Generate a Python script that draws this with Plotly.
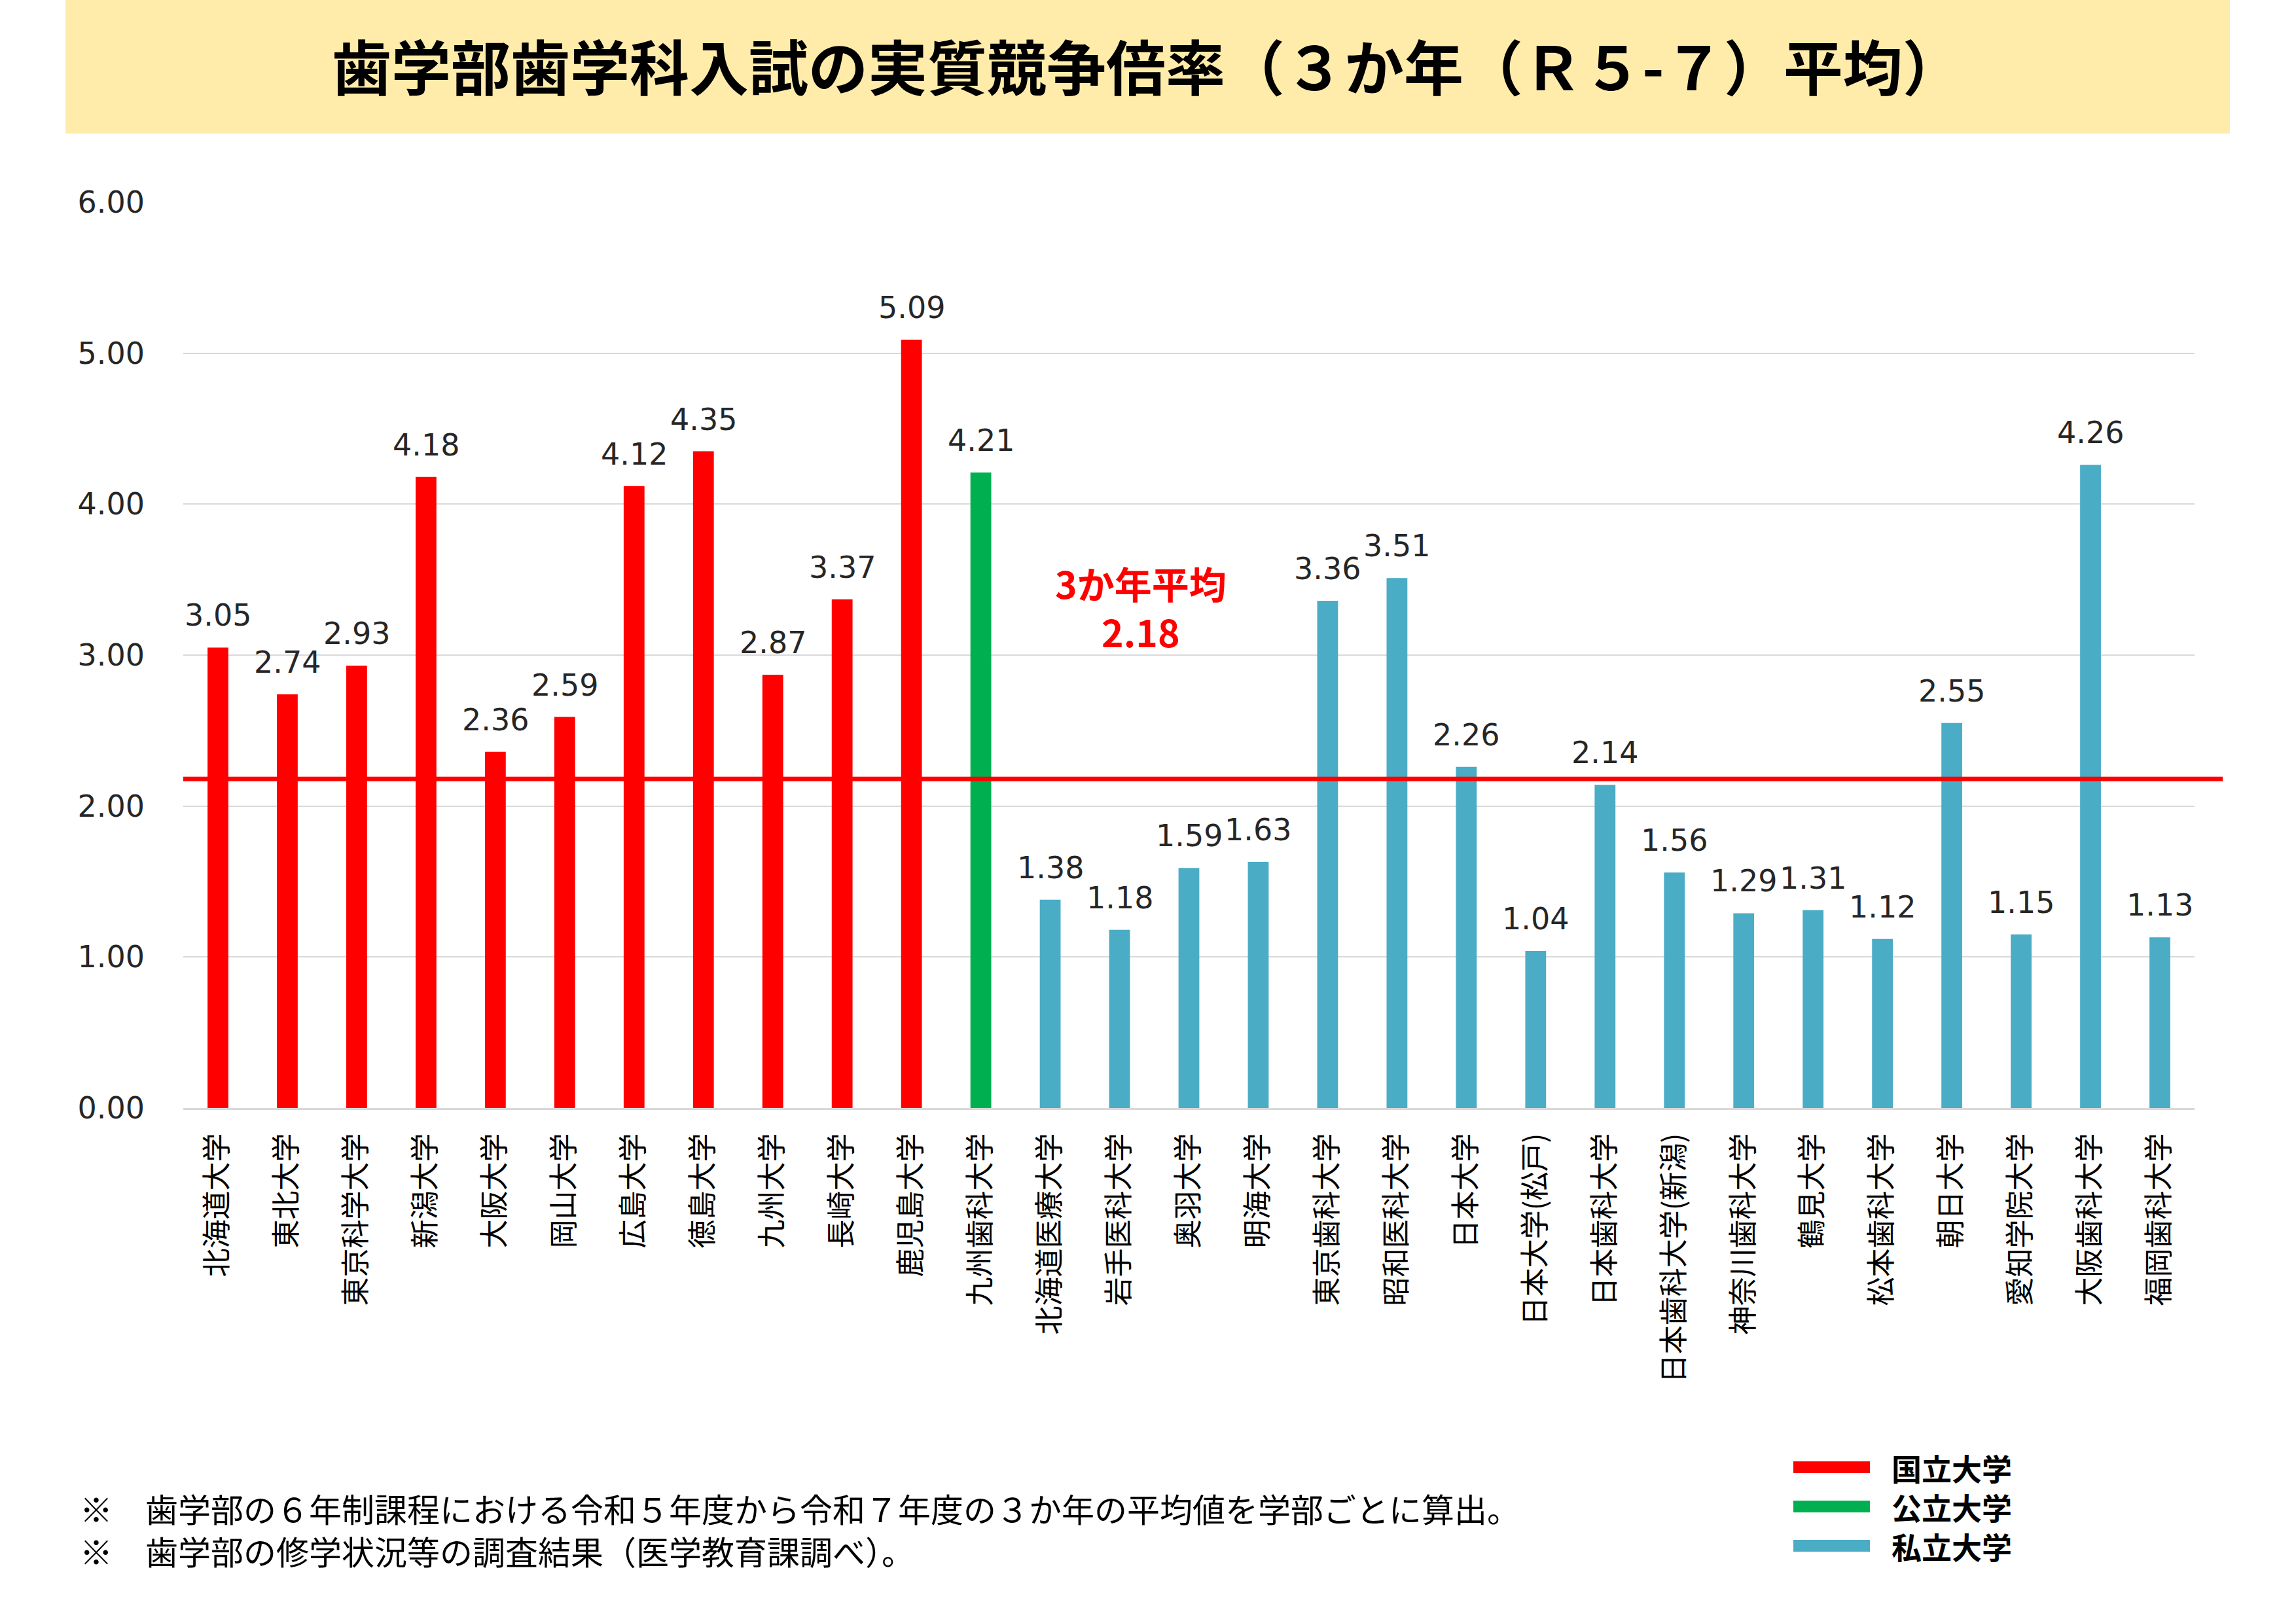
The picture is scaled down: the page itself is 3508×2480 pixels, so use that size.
import plotly.graph_objects as go

# ---------------- data ----------------
universities = [
    "北海道大学", "東北大学", "東京科学大学", "新潟大学", "大阪大学", "岡山大学",
    "広島大学", "徳島大学", "九州大学", "長崎大学", "鹿児島大学", "九州歯科大学",
    "北海道医療大学", "岩手医科大学", "奥羽大学", "明海大学", "東京歯科大学",
    "昭和医科大学", "日本大学", "日本大学(松戸)", "日本歯科大学", "日本歯科大学(新潟)",
    "神奈川歯科大学", "鶴見大学", "松本歯科大学", "朝日大学", "愛知学院大学",
    "大阪歯科大学", "福岡歯科大学",
]
rates = [
    3.05, 2.74, 2.93, 4.18, 2.36, 2.59, 4.12, 4.35, 2.87, 3.37, 5.09, 4.21,
    1.38, 1.18, 1.59, 1.63, 3.36, 3.51, 2.26, 1.04, 2.14, 1.56, 1.29, 1.31,
    1.12, 2.55, 1.15, 4.26, 1.13,
]
groups = [
    "国立大学", "国立大学", "国立大学", "国立大学", "国立大学", "国立大学",
    "国立大学", "国立大学", "国立大学", "国立大学", "国立大学", "公立大学",
    "私立大学", "私立大学", "私立大学", "私立大学", "私立大学", "私立大学",
    "私立大学", "私立大学", "私立大学", "私立大学", "私立大学", "私立大学",
    "私立大学", "私立大学", "私立大学", "私立大学", "私立大学",
]
legend_names = ["国立大学", "公立大学", "私立大学"]
legend_colors = ["#FF0000", "#00B050", "#4BACC6"]
average = 2.18
y_ticks = [0, 1, 2, 3, 4, 5, 6]
y_tick_labels = ["0.00", "1.00", "2.00", "3.00", "4.00", "5.00", "6.00"]

title_text = "歯学部歯学科入試の実質競争倍率（３か年（Ｒ５-７）平均）"
avg_label = "3か年平均<br>2.18"
footnotes = [
    "※　歯学部の６年制課程における令和５年度から令和７年度の３か年の平均値を学部ごとに算出。",
    "※　歯学部の修学状況等の調査結果（医学教育課調べ）。",
]

# ---------------- layout helpers ----------------
W, H = 3508, 2480
L, R, T, B = 280, 155, 309, 787
PW, PH = W - L - R, H - T - B


def px(x):
    return (x - L) / PW


def py(y):
    return (H - B - y) / PH


CJK = "Noto Sans CJK JP"
NUM = "DejaVu Sans"

color_map = dict(zip(legend_names, legend_colors))
bar_colors = [color_map[g] for g in groups]

fig = go.Figure()
fig.add_trace(go.Bar(
    x=universities, y=rates, marker=dict(color=bar_colors, line=dict(width=0)),
    showlegend=False, hoverinfo="x+y",
))

annotations = []
for u, v in zip(universities, rates):
    annotations.append(dict(
        x=u, y=v, xref="x", yref="y", text=f"{v:.2f}", showarrow=False,
        yanchor="bottom", yshift=20, font=dict(family=NUM, size=46, color="#262626"),
    ))

# average annotation
annotations.append(dict(
    x=px(1743), y=3.32, xref="paper", yref="y", text=avg_label, showarrow=False,
    xanchor="center", yanchor="middle", align="center",
    font=dict(family=CJK, size=57, color="#FF0000", weight="bold"),
))

# title
annotations.append(dict(
    x=px(1752), y=py(98), xref="paper", yref="paper", text=title_text, showarrow=False,
    xanchor="center", yanchor="middle",
    font=dict(family=CJK, size=91, color="#000000", weight="bold"),
))

# footnotes (one multi-line block)
annotations.append(dict(
    x=px(120), y=py(2336), xref="paper", yref="paper", text="<br>".join(footnotes),
    showarrow=False, xanchor="left", yanchor="middle", align="left",
    font=dict(family=CJK, size=50, color="#000000"),
))

shapes = [
    # title band
    dict(type="rect", xref="paper", yref="paper", x0=px(100), x1=px(3407),
         y0=py(204), y1=py(0), fillcolor="#FFECAA", line=dict(width=0), layer="below"),
    # average line
    dict(type="line", xref="paper", yref="y", x0=0, x1=px(3396), y0=average, y1=average,
         line=dict(color="#FF0000", width=7)),
]

# legend (drawn manually with line swatches)
for i, col in enumerate(legend_colors):
    yy = py(2242 + i * 60)
    shapes.append(dict(type="line", xref="paper", yref="paper", x0=px(2740), x1=px(2857),
                       y0=yy, y1=yy, line=dict(color=col, width=18)))
annotations.append(dict(
    x=px(2888), y=py(2302), xref="paper", yref="paper", text="<br>".join(legend_names),
    showarrow=False, xanchor="left", yanchor="middle", align="left",
    font=dict(family=CJK, size=46, color="#000000", weight="bold"),
))

fig.update_layout(
    width=W, height=H,
    margin=dict(l=L, r=R, t=T, b=B, autoexpand=False),
    paper_bgcolor="white", plot_bgcolor="white",
    bargap=0.7,
    annotations=annotations, shapes=shapes,
    xaxis=dict(
        type="category", tickangle=-90, showgrid=False,
        showline=True, linecolor="#D9D9D9", linewidth=3,
        ticks="", ticklabelstandoff=18,
        tickfont=dict(family=CJK, size=44, color="#000000"),
    ),
    yaxis=dict(
        range=[0, 6], tickvals=y_ticks, ticktext=y_tick_labels,
        showgrid=True, gridcolor="#D9D9D9", gridwidth=2, zeroline=False,
        ticks="", ticklabelstandoff=58,
        tickfont=dict(family=NUM, size=46, color="#262626"),
    ),
)

fig.write_html("out.html")
